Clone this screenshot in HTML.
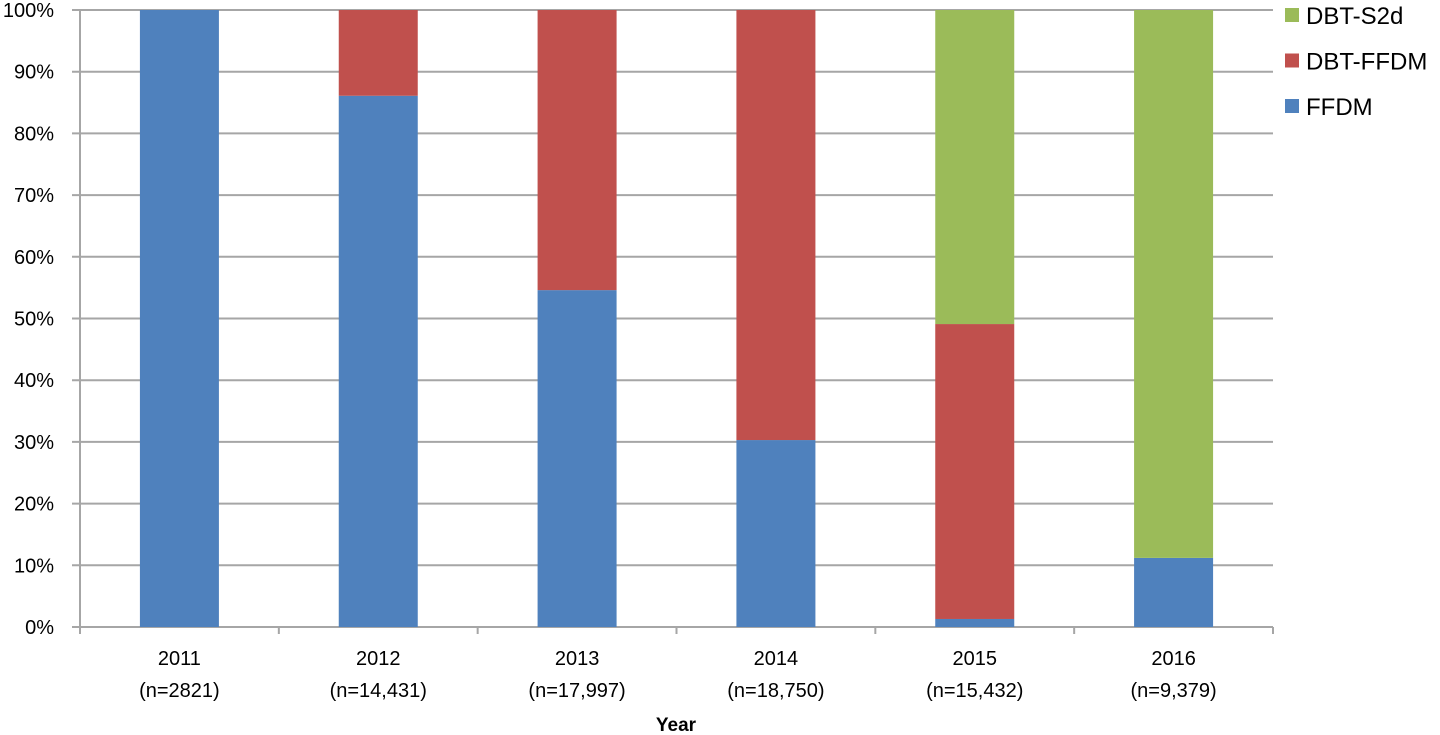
<!DOCTYPE html>
<html><head><meta charset="utf-8"><style>
html,body{margin:0;padding:0;background:#fff;width:1440px;height:735px;overflow:hidden}
svg text{font-family:"Liberation Sans",sans-serif;fill:#000}
</style></head><body>
<svg id="chart" width="1440" height="735" xmlns="http://www.w3.org/2000/svg"></svg>
<script>
const categories = ["2011","2012","2013","2014","2015","2016"];
const sampleLabels = ["(n=2821)","(n=14,431)","(n=17,997)","(n=18,750)","(n=15,432)","(n=9,379)"];
const seriesNames = ["FFDM","DBT-FFDM","DBT-S2d"];
const ffdm = [100, 86.1, 54.6, 30.3, 1.3, 11.2];
const dbtFfdm = [0, 13.9, 45.4, 69.7, 47.8, 0];
const dbtS2d = [0, 0, 0, 0, 50.9, 88.8];
const yTicks = [0,10,20,30,40,50,60,70,80,90,100];
const colors = {"FFDM":"#4f81bd","DBT-FFDM":"#c0504d","DBT-S2d":"#9bbb59"};

const svg = document.getElementById('chart');
const NS = "http://www.w3.org/2000/svg";
const x0 = 80, x1 = 1273, yTop = 10, yBot = 627;
const band = (x1 - x0) / categories.length;
const barW = 79;
function yScale(v){ return yBot - (v/100)*(yBot - yTop); }
function xCenter(i){ return x0 + band*i + band/2; }
function mk(tag, attrs){ const e = document.createElementNS(NS, tag); for (const k in attrs) e.setAttribute(k, attrs[k]); svg.appendChild(e); return e; }

yTicks.forEach(t => {
  const y = yScale(t);
  const g = mk('line',{x1:72,x2:x1,y1:y,y2:y,stroke:'#a6a6a6','stroke-width':2});
  
  
  const l = mk('text',{x:54,y:y+7,'text-anchor':'end','font-size':20});
  l.textContent = t + '%';
  
  
});
const ax = mk('line',{x1:x0,x2:x0,y1:yTop,y2:yBot,stroke:'#a6a6a6','stroke-width':2});


for (let i=0;i<=categories.length;i++){
  const x = x0 + band*i;
  const tk = mk('line',{x1:x,x2:x,y1:yBot,y2:yBot+7,stroke:'#a6a6a6','stroke-width':2});
  
  
}
const series = [["FFDM", ffdm],["DBT-FFDM", dbtFfdm],["DBT-S2d", dbtS2d]];
categories.forEach((c,i) => {
  let base = 0;
  series.forEach(([name, vals]) => {
    const v = vals[i];
    if (v > 0) {
      const r = mk('rect',{x:xCenter(i)-barW/2, y:yScale(base+v), width:barW, height:yScale(base)-yScale(base+v), fill:colors[name]});
      
      
    }
    base += v;
  });
  const t1 = mk('text',{x:xCenter(i),y:665,'text-anchor':'middle','font-size':20});
  t1.textContent = c;
  
  
  const t2 = mk('text',{x:xCenter(i),y:697,'text-anchor':'middle','font-size':20});
  t2.textContent = sampleLabels[i];
  
  
});
const xt = mk('text',{x:676,y:731,'text-anchor':'middle','font-size':19,'font-weight':'bold'});
xt.textContent = 'Year';



["DBT-S2d","DBT-FFDM","FFDM"].forEach((n,k) => {
  const y = 8 + k*45.5;
  const sq = mk('rect',{x:1285,y:y,width:14,height:14,fill:colors[n]});
  
  
  const lt = mk('text',{x:1306,y:y+16,'font-size':24});
  lt.textContent = n;
  
  
});
</script>
</body></html>
